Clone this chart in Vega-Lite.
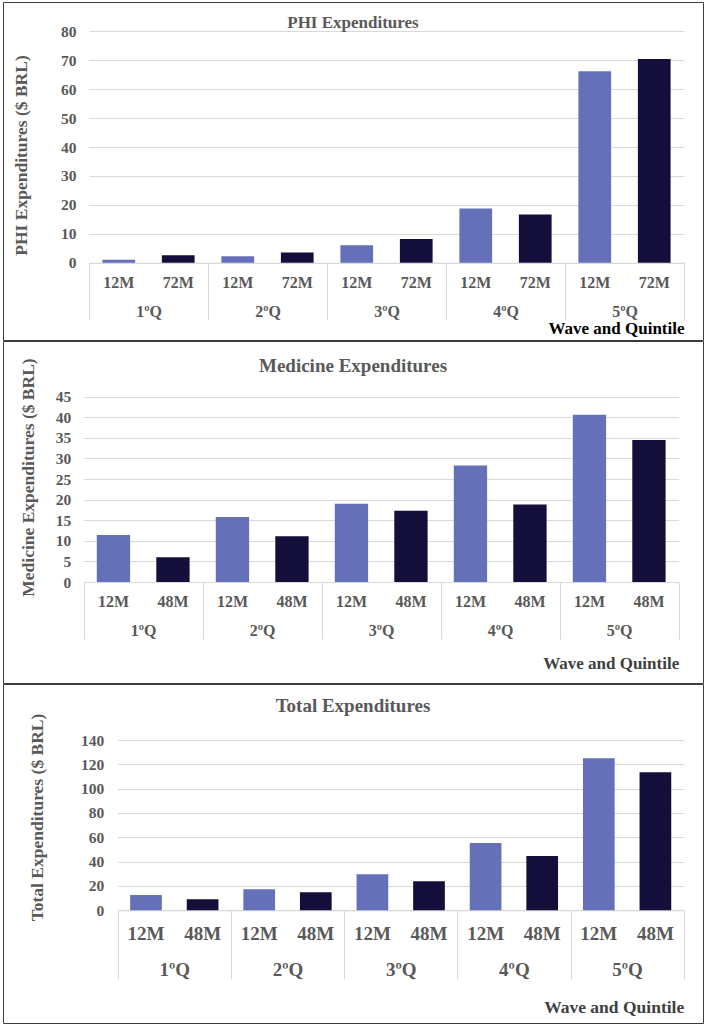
{
  "$schema": "https://vega.github.io/schema/vega-lite/v6.json",
  "background": "white",
  "padding": {"left": 2, "top": 1, "right": 0, "bottom": 0},
  "spacing": 1,
  "bounds": "flush",
  "resolve": {"scale": {"color": "independent", "xOffset": "independent"}},
  "datasets": {
    "phi": [
      {"quintile": "1ºQ", "wave": "12M", "value": 1.0},
      {"quintile": "1ºQ", "wave": "72M", "value": 2.6},
      {"quintile": "2ºQ", "wave": "12M", "value": 2.2},
      {"quintile": "2ºQ", "wave": "72M", "value": 3.5},
      {"quintile": "3ºQ", "wave": "12M", "value": 6.0},
      {"quintile": "3ºQ", "wave": "72M", "value": 8.2},
      {"quintile": "4ºQ", "wave": "12M", "value": 18.7},
      {"quintile": "4ºQ", "wave": "72M", "value": 16.7},
      {"quintile": "5ºQ", "wave": "12M", "value": 66.2},
      {"quintile": "5ºQ", "wave": "72M", "value": 70.4}
    ],
    "med": [
      {"quintile": "1ºQ", "wave": "12M", "value": 11.4},
      {"quintile": "1ºQ", "wave": "48M", "value": 6.0},
      {"quintile": "2ºQ", "wave": "12M", "value": 15.8},
      {"quintile": "2ºQ", "wave": "48M", "value": 11.1},
      {"quintile": "3ºQ", "wave": "12M", "value": 19.0},
      {"quintile": "3ºQ", "wave": "48M", "value": 17.3},
      {"quintile": "4ºQ", "wave": "12M", "value": 28.3},
      {"quintile": "4ºQ", "wave": "48M", "value": 18.8},
      {"quintile": "5ºQ", "wave": "12M", "value": 40.6},
      {"quintile": "5ºQ", "wave": "48M", "value": 34.5}
    ],
    "total": [
      {"quintile": "1ºQ", "wave": "12M", "value": 12.6},
      {"quintile": "1ºQ", "wave": "48M", "value": 9.0},
      {"quintile": "2ºQ", "wave": "12M", "value": 17.3},
      {"quintile": "2ºQ", "wave": "48M", "value": 14.8},
      {"quintile": "3ºQ", "wave": "12M", "value": 29.6},
      {"quintile": "3ºQ", "wave": "48M", "value": 23.8},
      {"quintile": "4ºQ", "wave": "12M", "value": 55.3},
      {"quintile": "4ºQ", "wave": "48M", "value": 44.7},
      {"quintile": "5ºQ", "wave": "12M", "value": 124.9},
      {"quintile": "5ºQ", "wave": "48M", "value": 113.4}
    ]
  },
  "vconcat": [
    {
      "width": 700, "height": 338,
      "data": {"name": "phi"},
      "title": {"text": "PHI Expenditures", "offset": -30, "fontSize": 17, "frame": "group", "anchor": "middle"},
      "encoding": {
        "x": {"field": "quintile", "type": "nominal", "sort": null,
          "scale": {"type": "band", "range": [86, 681], "paddingInner": 0, "paddingOuter": 0},
          "axis": {"title": "Wave and Quintile", "orient": "bottom", "offset": -77.3, "tickBand": "extent", "tickSize": 57.3, "labelPadding": -16.4, "labelFontSize": 16, "titlePadding": 0, "titleColor": "#000000", "titleFontSize": 17}},
        "xOffset": {"field": "wave", "type": "nominal", "sort": null, "scale": {"paddingInner": 0.45, "paddingOuter": 0.225}},
        "y": {"field": "value", "type": "quantitative",
          "scale": {"domain": [0, 80], "range": [260.7, 29.3], "nice": false, "zero": false},
          "axis": {"title": "PHI Expenditures ($ BRL)", "orient": "left", "offset": -86, "values": [0, 10, 20, 30, 40, 50, 60, 70, 80], "grid": true, "labelPadding": 13, "titlePadding": 30, "titleY": 153}}
      },
      "layer": [
        {
          "mark": {"type": "bar"},
          "encoding": {
            "color": {"field": "wave", "type": "nominal", "scale": {"domain": ["12M", "72M"], "range": ["#6471B8", "#140F3A"]}, "legend": null}
          }
        },
        {
          "mark": {"type": "text", "fontSize": 16, "dy": 20.3},
          "encoding": {
            "y": {"datum": 0, "type": "quantitative"},
            "text": {"field": "wave"}
          }
        }
      ]
    },
    {
      "width": 700, "height": 342,
      "data": {"name": "med"},
      "title": {"text": "Medicine Expenditures", "offset": -35, "fontSize": 19, "frame": "group", "anchor": "middle"},
      "encoding": {
        "x": {"field": "quintile", "type": "nominal", "sort": null,
          "scale": {"type": "band", "range": [80.7, 675.7], "paddingInner": 0, "paddingOuter": 0},
          "axis": {"title": "Wave and Quintile", "orient": "bottom", "offset": -101, "tickBand": "extent", "tickSize": 57, "labelPadding": -16.4, "labelFontSize": 16, "titlePadding": 16, "titleColor": "#404040", "titleFontSize": 17}},
        "xOffset": {"field": "wave", "type": "nominal", "sort": null, "scale": {"paddingInner": 0.44, "paddingOuter": 0.22}},
        "y": {"field": "value", "type": "quantitative",
          "scale": {"domain": [0, 45], "range": [241, 55.7], "nice": false, "zero": false},
          "axis": {"title": "Medicine Expenditures ($ BRL)", "orient": "left", "offset": -80.7, "values": [0, 5, 10, 15, 20, 25, 30, 35, 40, 45], "grid": true, "labelPadding": 13, "titlePadding": 18, "titleY": 136}}
      },
      "layer": [
        {
          "mark": {"type": "bar"},
          "encoding": {
            "color": {"field": "wave", "type": "nominal", "scale": {"domain": ["12M", "48M"], "range": ["#6471B8", "#140F3A"]}, "legend": null}
          }
        },
        {
          "mark": {"type": "text", "fontSize": 16, "dy": 19.5},
          "encoding": {
            "y": {"datum": 0, "type": "quantitative"},
            "text": {"field": "wave"}
          }
        }
      ]
    },
    {
      "width": 700, "height": 339,
      "data": {"name": "total"},
      "title": {"text": "Total Expenditures", "offset": -32, "fontSize": 19, "frame": "group", "anchor": "middle"},
      "encoding": {
        "x": {"field": "quintile", "type": "nominal", "sort": null,
          "scale": {"type": "band", "range": [114.7, 680.7], "paddingInner": 0, "paddingOuter": 0},
          "axis": {"title": "Wave and Quintile", "orient": "bottom", "offset": -112.7, "tickBand": "extent", "tickSize": 68.7, "labelPadding": -18.7, "labelFontSize": 19, "titlePadding": 18.7, "titleColor": "#404040", "titleFontSize": 17.5}},
        "xOffset": {"field": "wave", "type": "nominal", "sort": null, "scale": {"paddingInner": 0.44, "paddingOuter": 0.22}},
        "y": {"field": "value", "type": "quantitative",
          "scale": {"domain": [0, 140], "range": [226.3, 56], "nice": false, "zero": false},
          "axis": {"title": "Total Expenditures ($ BRL)", "orient": "left", "offset": -114.7, "values": [0, 20, 40, 60, 80, 100, 120, 140], "grid": true, "labelPadding": 14, "titlePadding": 34, "titleY": 133}}
      },
      "layer": [
        {
          "mark": {"type": "bar"},
          "encoding": {
            "color": {"field": "wave", "type": "nominal", "scale": {"domain": ["12M", "48M"], "range": ["#6471B8", "#140F3A"]}, "legend": null}
          }
        },
        {
          "mark": {"type": "text", "fontSize": 19, "dy": 23.7},
          "encoding": {
            "y": {"datum": 0, "type": "quantitative"},
            "text": {"field": "wave"}
          }
        }
      ]
    }
  ],
  "config": {
    "font": "Liberation Serif",
    "view": {"stroke": "#3C3C3C", "strokeWidth": 1},
    "axis": {
      "labelFont": "Liberation Serif", "titleFont": "Liberation Serif",
      "labelFontWeight": "bold", "titleFontWeight": "bold",
      "labelColor": "#595959", "titleColor": "#595959",
      "labelFontSize": 15.5, "titleFontSize": 17.5,
      "gridColor": "#D9D9D9", "gridWidth": 1,
      "domain": false, "ticks": false, "tickSize": 0
    },
    "axisX": {"domain": true, "domainColor": "#D9D9D9", "ticks": true, "tickColor": "#D9D9D9", "grid": false, "labelAngle": 0, "titleAnchor": "end", "titleAlign": "right"},
    "title": {"font": "Liberation Serif", "fontWeight": "bold", "color": "#595959"},
    "text": {"font": "Liberation Serif", "fontWeight": "bold", "color": "#595959", "baseline": "middle", "align": "center"}
  }
}
